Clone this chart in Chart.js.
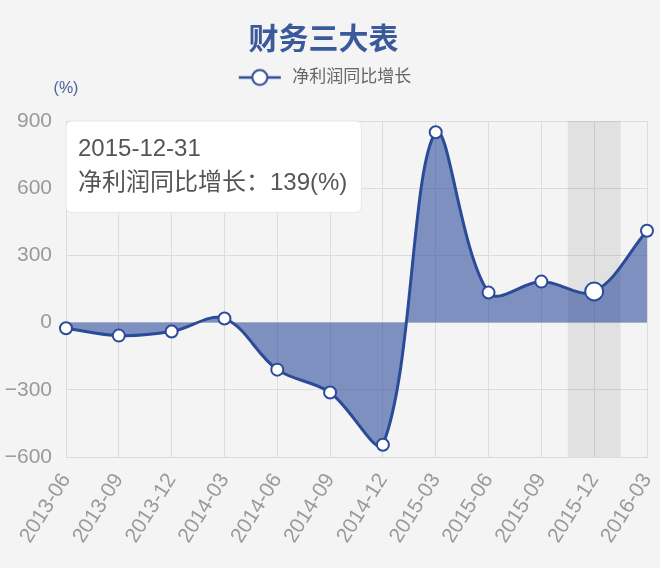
<!DOCTYPE html>
<html>
<head>
<meta charset="utf-8">
<script src="https://cdn.jsdelivr.net/npm/chart.js@4"></script>
<style>
html,body{margin:0;padding:0;background:#f4f4f4;}
#wrap{width:660px;height:568px;}
</style>
</head>
<body>
<div id="wrap"><canvas id="c" width="660" height="568"></canvas></div>
<script>
// ---- data ----
const chartTitle = '财务三大表';
const seriesName = '净利润同比增长';
const unitLabel = '(%)';
const categories = ['2013-06','2013-09','2013-12','2014-03','2014-06','2014-09','2014-12','2015-03','2015-06','2015-09','2015-12','2016-03'];
const reportDates = ['2013-06-30','2013-09-30','2013-12-31','2014-03-31','2014-06-30','2014-09-30','2014-12-31','2015-03-31','2015-06-30','2015-09-30','2015-12-31','2016-03-31'];
const netProfitGrowth = [-25, -58, -40, 18, -210, -312, -545, 850, 134, 183, 139, 410];
const yTicks = [-600, -300, 0, 300, 600, 900];
const activeIndex = 10;

// ---- styles ----
const FONT = "'Liberation Sans', 'Noto Sans CJK SC', sans-serif";
const LINE = '#2b4a97';
const GRID = '#dcdcdc';

// legend marker (line + circle)
const marker = document.createElement('canvas');
marker.width = 48; marker.height = 20;
(function(){
  const g = marker.getContext('2d');
  g.strokeStyle = LINE; g.lineWidth = 2.5;
  g.beginPath(); g.moveTo(3, 10); g.lineTo(45, 10); g.stroke();
  g.beginPath(); g.arc(24, 10, 7.5, 0, Math.PI*2);
  g.fillStyle = '#fff'; g.fill(); g.lineWidth = 2; g.stroke();
})();

Chart.Tooltip.positioners.fixedTopLeft = function() {
  const a = this.chart.chartArea;
  return { x: a.left + 6, y: a.top };
};

const bgPlugin = {
  id: 'bg',
  beforeDraw(chart) {
    const ctx = chart.ctx;
    ctx.save(); ctx.fillStyle = '#f4f4f4';
    ctx.fillRect(0, 0, chart.width, chart.height); ctx.restore();
  }
};
const bandPlugin = {
  id: 'band',
  beforeDatasetsDraw(chart) {
    const xs = chart.scales.x, a = chart.chartArea, ctx = chart.ctx;
    const w = xs.getPixelForValue(1) - xs.getPixelForValue(0);
    const cx = xs.getPixelForValue(activeIndex);
    ctx.save(); ctx.fillStyle = 'rgba(0,0,0,0.075)';
    ctx.fillRect(cx - w/2, a.top, w, a.bottom - a.top); ctx.restore();
  }
};
const unitPlugin = {
  id: 'unit',
  afterDraw(chart) {
    const a = chart.chartArea, ctx = chart.ctx;
    ctx.save(); ctx.fillStyle = '#4b62a0';
    ctx.font = '16px ' + FONT; ctx.textAlign = 'center'; ctx.textBaseline = 'middle';
    ctx.fillText(unitLabel, a.left, a.top - 32); ctx.restore();
  }
};
const legendSpace = {
  id: 'legendSpace',
  beforeInit(chart) {
    const orig = chart.legend.fit;
    chart.legend.fit = function() { orig.call(this); this.height += 25; };
  }
};

const chart = new Chart(document.getElementById('c'), {
  type: 'line',
  data: {
    labels: categories,
    datasets: [{
      label: seriesName,
      data: netProfitGrowth,
      borderColor: LINE,
      borderWidth: 3,
      backgroundColor: 'rgba(40,72,155,0.58)',
      fill: 'origin',
      tension: 0.35,
      clip: false,
      pointRadius: 6,
      pointBorderWidth: 2,
      pointBackgroundColor: '#ffffff',
      pointBorderColor: LINE,
      pointHoverRadius: 9,
      pointHoverBorderWidth: 2,
      pointHoverBackgroundColor: '#ffffff',
      pointHoverBorderColor: LINE
    }]
  },
  options: {
    responsive: false,
    animation: false,
    events: [],
    layout: { padding: { left: 0, right: 13, top: 0, bottom: 0 } },
    plugins: {
      title: {
        display: true, text: chartTitle, color: '#3b5a9c',
        font: { family: FONT, size: 30, weight: 'bold' },
        padding: { top: 23, bottom: 0 }
      },
      legend: {
        display: true, position: 'top',
        labels: {
          usePointStyle: true, pointStyleWidth: 48, color: '#666666',
          font: { family: FONT, size: 17 }, padding: 10,
          generateLabels(ch) {
            const items = Chart.defaults.plugins.legend.labels.generateLabels(ch);
            items.forEach(it => { it.pointStyle = marker; it.fontColor = '#666666'; });
            return items;
          }
        }
      },
      tooltip: {
        enabled: true, position: 'fixedTopLeft', xAlign: 'left', yAlign: 'top',
        caretSize: 0, caretPadding: 0, cornerRadius: 6,
        backgroundColor: '#ffffff', borderColor: '#e6e6e6', borderWidth: 1,
        titleColor: '#555555', bodyColor: '#555555',
        titleFont: { family: FONT, size: 24, weight: 'normal' },
        bodyFont: { family: FONT, size: 24 },
        titleMarginBottom: 5,
        padding: { left: 12, right: 14, top: 14, bottom: 15 },
        displayColors: false,
        callbacks: {
          title: items => reportDates[items[0].dataIndex],
          label: c => seriesName + '：' + c.parsed.y + unitLabel
        }
      }
    },
    scales: {
      x: {
        type: 'category', offset: false,
        grid: { color: GRID, drawTicks: false },
        border: { color: GRID },
        ticks: { minRotation: 58, maxRotation: 58, padding: 12, color: '#9a9a9a', font: { family: FONT, size: 21 } },
        afterFit(s) { s.height = 111; s.paddingLeft = 0; s.paddingRight = 0; }
      },
      y: {
        min: -600, max: 900,
        afterBuildTicks(s) { s.ticks = yTicks.map(v => ({ value: v })); },
        grid: { color: GRID, drawTicks: false },
        border: { color: GRID },
        ticks: {
          padding: 14, color: '#9a9a9a', font: { family: FONT, size: 21 },
          callback: v => (v < 0 ? '\u2212' + Math.abs(v) : String(v))
        },
        afterFit(s) { s.width = 66; s.paddingTop = 0; s.paddingBottom = 0; }
      }
    }
  },
  plugins: [bgPlugin, bandPlugin, unitPlugin, legendSpace]
});

chart.setActiveElements([{ datasetIndex: 0, index: activeIndex }]);
chart.tooltip.setActiveElements([{ datasetIndex: 0, index: activeIndex }], { x: 0, y: 0 });
chart.draw();
</script>
</body>
</html>
